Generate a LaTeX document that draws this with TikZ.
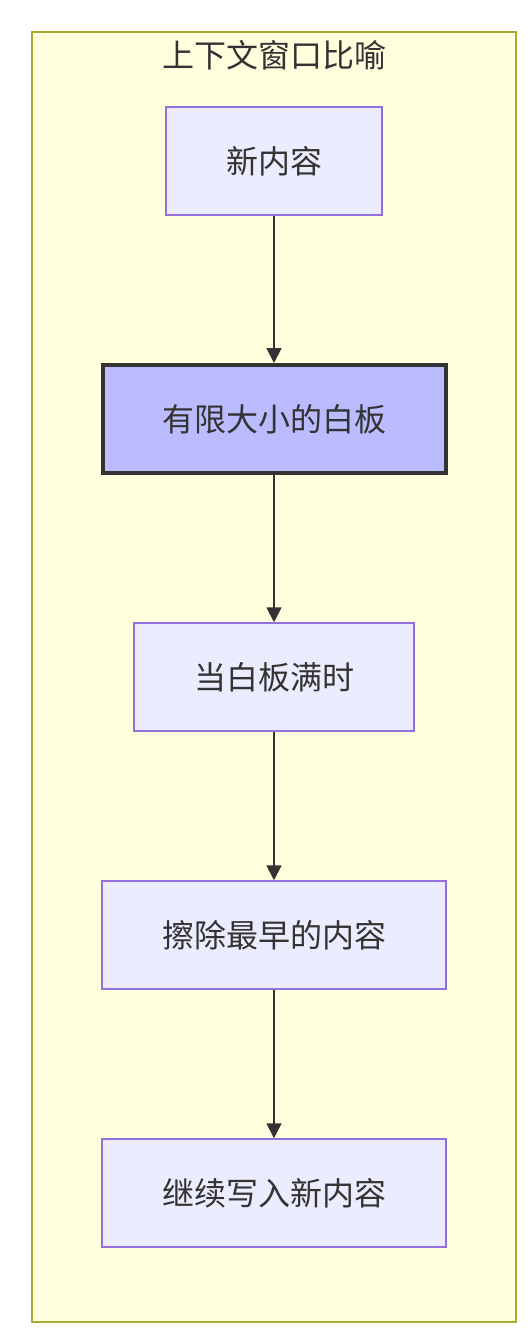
\documentclass[tikz,border=0pt]{standalone}
\usepackage{fontspec}
\usetikzlibrary{arrows.meta}
\newfontfamily\cjk{Noto Sans CJK SC}
\definecolor{boxfill}{HTML}{ECECFF}
\definecolor{boxline}{HTML}{9370DB}
\definecolor{groupfill}{HTML}{FFFFDE}
\definecolor{groupline}{HTML}{AAAA33}
\definecolor{ink}{HTML}{333333}
\definecolor{boardfill}{HTML}{BBBBFF}
\begin{document}
\begin{tikzpicture}[x=1pt, y=-1pt,
    box/.style={draw=boxline, line width=1.5pt, fill=boxfill, minimum height=108pt, inner sep=0pt, text=ink, font=\cjk\fontsize{32}{38}\selectfont},
    board/.style={box, draw=ink, line width=4pt, fill=boardfill},
    flow/.style={draw=ink, line width=1.8pt, -{Triangle[length=15pt, width=15pt]}}]
    \useasboundingbox (0,0) rectangle (532,1338);

    \filldraw[draw=groupline, fill=groupfill, line width=1.5pt] (32,32) rectangle (516,1322);
    \node[text=ink, font=\cjk\fontsize{32}{38}\selectfont] (title) at (274,55) {上下文窗口比喻};

    \node[box, minimum width=216pt] (new) at (274,161) {新内容};
    \node[board, minimum width=343pt] (board) at (274,419) {有限大小的白板};
    \node[box, minimum width=280pt] (full) at (274,677) {当白板满时};
    \node[box, minimum width=344pt] (erase) at (274,935) {擦除最早的内容};
    \node[box, minimum width=344pt] (write) at (274,1193) {继续写入新内容};

    \draw[flow] (new) -- (board);
    \draw[flow] (board) -- (full);
    \draw[flow] (full) -- (erase);
    \draw[flow] (erase) -- (write);

\end{tikzpicture}
\end{document}
